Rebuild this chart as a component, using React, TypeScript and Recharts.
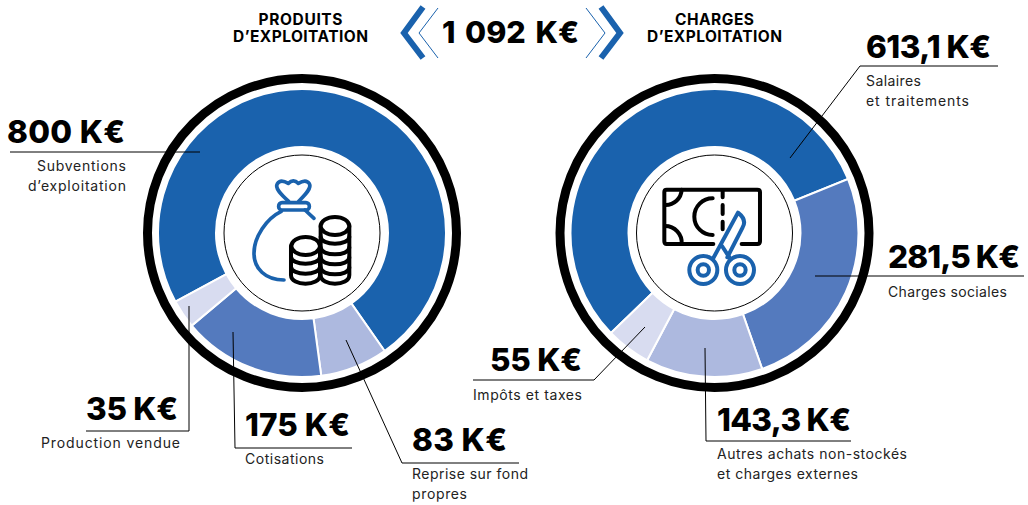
import { Pie, PieChart, Cell } from "recharts";

const WIDTH = 1028;
const HEIGHT = 505;
const BLUE = "#1a62ad";
const FONT = "Inter, sans-serif";

const shades = ["#1a62ad", "#547abe", "#adb9df", "#d8dcf0"];

const incomeNames = ["Subventions d'exploitation", "Reprise sur fond propres", "Cotisations", "Production vendue"];
const incomeValues = [800, 83, 175, 35];
const incomeColors = [shades[0], shades[2], shades[1], shades[3]];

const costNames = ["Salaires et traitements", "Charges sociales", "Autres achats non-stockés et charges externes", "Impôts et taxes"];
const costValues = [613.1, 281.5, 143.3, 55];
const costColors = [shades[0], shades[1], shades[2], shades[3]];

const incomeData = incomeNames.map((name, i) => ({ name, value: incomeValues[i] }));
const costData = costNames.map((name, i) => ({ name, value: costValues[i] }));

const kEuro = (v: number) => String(v).replace(".", ",") + " K€";

// where each callout sits: big value, caption lines with their widths, leader line
const callouts = [
  { value: incomeValues[0], x: 125, y: 143, w: 118, anchor: "end", lines: [["Subventions", 89], ["d’exploitation", 98]], capX: 126, capY: 171, line: "10,152 200,152" },
  { value: incomeValues[3], x: 178, y: 420, w: 92, anchor: "end", lines: [["Production vendue", 139]], capX: 180, capY: 448, line: "86,431 189,431 189,306" },
  { value: incomeValues[2], x: 245, y: 436, w: 105, anchor: "start", lines: [["Cotisations", 79]], capX: 245, capY: 464, line: "352,448 235,448 233,332" },
  { value: incomeValues[1], x: 412, y: 451, w: 95, anchor: "start", lines: [["Reprise sur fond", 116], ["propres", 55]], capX: 412, capY: 479, line: "519,463 402,463 346,340" },
  { value: costValues[0], x: 866, y: 58, w: 125, anchor: "start", lines: [["Salaires", 55], ["et traitements", 103]], capX: 866, capY: 86, line: "998,66 860,66 790,158" },
  { value: costValues[1], x: 888, y: 268, w: 132, anchor: "start", lines: [["Charges sociales", 119]], capX: 888, capY: 297, line: "1024,276 815,276" },
  { value: costValues[2], x: 717, y: 431, w: 134, anchor: "start", lines: [["Autres achats non-stockés", 190], ["et charges externes", 141]], capX: 717, capY: 459, line: "851,441 706,441 705,348" },
  { value: costValues[3], x: 582, y: 371, w: 92, anchor: "end", lines: [["Impôts et taxes", 109]], capX: 473, capY: 400, capAnchor: "start", line: "473,380 594,380 645,327" },
];

function Donut({ cx, data, colors, start }: { cx: number; data: { name: string; value: number }[]; colors: string[]; start: number }) {
  return (
    <Pie
      data={data}
      dataKey="value"
      cx={cx}
      cy={233}
      innerRadius={86}
      outerRadius={144}
      startAngle={start}
      endAngle={start - 360}
      stroke="#fff"
      strokeWidth={2}
      isAnimationActive={false}
      label={false}
      labelLine={false}
    >
      {data.map((d, i) => (
        <Cell key={d.name} fill={colors[i]} />
      ))}
    </Pie>
  );
}

function BagIcon() {
  const coin = { fill: "#fff", stroke: "#000", strokeWidth: 12 };
  return (
    <g transform="translate(210 140) scale(0.3333)" fill="none" strokeLinecap="round" strokeLinejoin="round">
      <g stroke={BLUE} strokeWidth={11}>
        <path d="M236 184 C215 165 193 145 202 131 C210 118 225 124 235 130 C245 120 255 120 265 130 C275 124 290 118 298 131 C306 145 285 165 266 184" />
        <rect x={206} y={188} width={92} height={22} rx={10} />
        <path d="M214 214 C170 235 132 290 132 340 C132 385 165 420 222 420" />
        <path d="M285 210 L312 235" />
      </g>
      <path {...coin} d="M332 258 L332 405 C332 440 418 440 418 405 L418 258" />
      <ellipse {...coin} cx={375} cy={258} rx={43} ry={27} />
      <path stroke="#000" strokeWidth={12} d="M332 290 C332 318 418 318 418 290 M332 322 C332 350 418 350 418 322 M332 352 C332 380 418 380 418 352 M332 382 C332 410 418 410 418 382" />
      <path {...coin} d="M243 318 L243 405 C243 440 330 440 330 405 L330 318" />
      <ellipse {...coin} cx={287} cy={318} rx={43} ry={27} />
      <path stroke="#000" strokeWidth={12} d="M243 350 C243 378 330 378 330 350 M243 380 C243 408 330 408 330 380" />
    </g>
  );
}

function ScissorsIcon() {
  return (
    <g transform="translate(620 140) scale(0.3333)" fill="none" strokeLinecap="round" strokeLinejoin="round">
      <g stroke="#000" strokeWidth={12}>
        <path d="M280 312 L140 312 Q133 312 133 304 L133 156 Q133 149 140 149 L412 149 Q420 149 420 156 L420 304 Q420 312 412 312 L365 312" />
        <path d="M185 149 A48 48 0 0 1 135 195 M135 258 A50 50 0 0 1 185 312 M278 175 A55 55 0 0 0 278 285" />
        <path d="M308 150 L308 172 M308 195 L308 222 M308 245 L308 268" />
      </g>
      <g stroke={BLUE} strokeWidth={12}>
        <circle cx={250} cy={390} r={42} />
        <circle cx={250} cy={390} r={17} />
        <circle cx={360} cy={390} r={42} />
        <circle cx={360} cy={390} r={17} />
        <path d="M278 358 L354 218 C372 232 378 245 368 262 L322 352" />
        <path d="M332 358 L306 318" />
      </g>
    </g>
  );
}

export default function App() {
  return (
    <div style={{ position: "absolute", left: 0, top: 0, width: WIDTH, height: HEIGHT }}>
      <PieChart width={WIDTH} height={HEIGHT} margin={{ top: 0, right: 0, bottom: 0, left: 0 }}>
        <circle cx={302} cy={233} r={154.5} fill="none" stroke="#000" strokeWidth={9} />
        <circle cx={714.5} cy={233} r={154.5} fill="none" stroke="#000" strokeWidth={9} />
        {Donut({ cx: 302, data: incomeData, colors: incomeColors, start: -151.5 })}
        {Donut({ cx: 714.5, data: costData, colors: costColors, start: 224 })}
      </PieChart>

      {/* pies paint above plain svg children, so everything on top goes in its own layer */}
      <svg width={WIDTH} height={HEIGHT} style={{ position: "absolute", left: 0, top: 0 }}>
        <circle cx={302} cy={233} r={78} fill="#fff" stroke="#000" strokeWidth={1} />
        <circle cx={714.5} cy={233} r={78} fill="#fff" stroke="#000" strokeWidth={1} />
        <BagIcon />
        <ScissorsIcon />

        <g fontFamily={FONT} fontWeight={700} fontSize={15.5} textAnchor="middle" fill="#000">
          <text x={300.5} y={25} textLength={84}>PRODUITS</text>
          <text x={300.5} y={42} textLength={135}>D’EXPLOITATION</text>
          <text x={714.5} y={25} textLength={79}>CHARGES</text>
          <text x={714.5} y={42} textLength={135}>D’EXPLOITATION</text>
        </g>
        <text x={510.5} y={43} fontFamily={FONT} fontWeight={800} fontSize={30.5} wordSpacing={3} textAnchor="middle" fill="#000">
          1 092 K€
        </text>
        <g fill="none" stroke={BLUE}>
          <polyline points="423,7 404,33 423,58" strokeWidth={6} />
          <polyline points="438,8 419,33 438,58" strokeWidth={1} />
          <polyline points="601,7 620,33 601,58" strokeWidth={6} />
          <polyline points="586,8 605,33 586,58" strokeWidth={1} />
        </g>

        {callouts.map((c) => (
          <g key={c.line}>
            <polyline points={c.line} fill="none" stroke="#000" strokeWidth={1} />
            <text x={c.x} y={c.y} textAnchor={c.anchor} textLength={c.w} fontFamily={FONT} fontWeight={800} fontSize={31.5} fill="#000">
              {kEuro(c.value)}
            </text>
            {c.lines.map(([t, w], i) => (
              <text
                key={t as string}
                x={c.capX}
                y={c.capY + i * 20.3}
                textAnchor={c.capAnchor ?? c.anchor}
                textLength={w as number}
                fontFamily={FONT}
                fontSize={14}
                fill="#222"
              >
                {t}
              </text>
            ))}
          </g>
        ))}
      </svg>
    </div>
  );
}
